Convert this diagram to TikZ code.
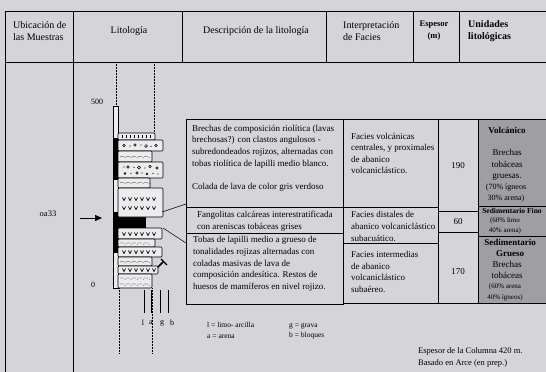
\documentclass[tikz,border=0pt]{standalone}
\usepackage{fontspec}
\setmainfont{Liberation Serif}
\usetikzlibrary{arrows.meta}
\definecolor{paper}{RGB}{213,213,217}
\definecolor{unitgray}{RGB}{158,158,163}
\tikzset{
  rule/.style={line width=0.7pt},
  bed/.style={draw, fill=white!55!paper, line width=0.6pt, rounded corners=1pt},
  hdr/.style={inner sep=0pt, align=left, font=\fontsize{10}{12}\selectfont},
  cell/.style={inner sep=0pt, anchor=west, align=left, font=\fontsize{9}{11.6}\selectfont},
  unitxt/.style={inner sep=0pt, align=center, font=\fontsize{9}{11.5}\selectfont},
  legend/.style={inner sep=0pt, align=left, font=\fontsize{7.5}{10.5}\selectfont},
  guide/.style={densely dotted, line width=0.5pt},
  leader/.style={line width=0.5pt}
}

\begin{document}
\begin{tikzpicture}[x=1pt,y=-1pt]
  \fill[paper] (0,0) rectangle (546,372);
  \useasboundingbox (0,0) rectangle (546,372);

  % header row
  \draw[rule] (5,372) -- (5,11) -- (546,11);
  \draw[rule] (5,62) -- (546,62);
  \draw[rule] (73,11) -- (73,372);
  \foreach \x in {182,326,413,459} \draw[rule] (\x,11) -- (\x,62);
  \node[hdr, anchor=west] (hloc) at (13,31) {Ubicación de\\las Muestras};
  \node[hdr] (hlit) at (129,31) {Litología};
  \node[hdr] (hdesc) at (256,31) {Descripción de la litología};
  \node[hdr, anchor=west] (hfac) at (343,31) {Interpretación\\de Facies};
  \node[hdr, align=center, font=\fontsize{8.5}{12}\selectfont\bfseries] (hesp) at (434,31) {Espesor\\(m)};
  \node[hdr, anchor=west, font=\fontsize{10}{12}\selectfont\bfseries] (huni) at (468,31) {Unidades\\litológicas};

  % table
  \draw[rule] (186,119) rectangle (343,304);
  \draw[rule] (186,207) -- (343,207) (186,233) -- (343,233);
  \draw[rule] (343,119) rectangle (438,303);
  \draw[rule] (343,207) -- (438,207) (343,243) -- (438,243);
  \draw[rule] (438,119) rectangle (478,303);
  \draw[rule] (438,211) -- (478,211) (438,232) -- (478,232);
  \fill[unitgray] (478,119) rectangle (546,303);
  \draw[rule] (546,119) -- (478,119) -- (478,303) -- (546,303);
  \draw[rule] (478,206) -- (546,206) (478,236) -- (546,236);

  \node[cell] (desc1) at (192,146.5) {Brechas de composición riolítica (lavas\\brechosas?) con clastos angulosos -\\subredondeados rojizos, alternadas con\\tobas riolítica de lapilli medio blanco.};
  \node[cell] (desc1b) at (192,187) {Colada de lava de color gris verdoso};
  \node[cell] (desc2) at (197,221) {Fangolitas calcáreas interestratificada\\con areniscas tobáceas grises};
  \node[cell] (desc3) at (193,264) {Tobas de lapilli medio a grueso de\\tonalidades rojizas alternadas con\\coladas masivas de lava de\\composición andesítica. Restos de\\huesos de mamíferos en nivel rojizo.};

  \node[cell] (fac1) at (351,153.5) {Facies volcánicas\\centrales, y proximales\\de abanico\\volcaniclástico.};
  \node[cell] (fac2) at (351,226.5) {Facies distales de\\abanico volcaniclástico\\subacuático.};
  \node[cell] (fac3) at (351,272) {Facies intermedias\\de abanico\\volcaniclástico\\subaéreo.};

  \node[unitxt] (esp1) at (458,166) {190};
  \node[unitxt] (esp2) at (458,222) {60};
  \node[unitxt] (esp3) at (458,272) {170};

  \node[unitxt, font=\fontsize{9}{11.5}\selectfont\bfseries] (volc) at (507,130) {Volcánico};
  \node[unitxt] (volc2) at (507,165) {Brechas\\tobáceas\\gruesas.};
  \node[unitxt, font=\fontsize{8}{11}\selectfont] (volc3) at (506,193.5) {(70\% ígneos\\30\% arena)};
  \node[unitxt, font=\fontsize{7.5}{10}\selectfont\bfseries] (sedf) at (512,210.5) {Sedimentario Fino};
  \node[unitxt, font=\fontsize{7}{10}\selectfont] (sedf2) at (505,226) {(60\% limo\\40\% arena)};
  \node[unitxt, font=\fontsize{9}{11}\selectfont\bfseries] (sedg) at (510,247.5) {Sedimentario\\Grueso};
  \node[unitxt] (sedg2) at (507,270) {Brechas\\tobáceas};
  \node[unitxt, font=\fontsize{7}{11}\selectfont] (sedg3) at (505,292.5) {(60\% arena\\40\% ígneos)};

  % stratigraphic column
  \draw[guide] (116,62) -- (116,106);
  \draw[guide] (154,62) -- (154,133);
  \draw[guide] (119,288) -- (119,353);
  \draw[guide] (152,288) -- (152,353);
  \node[legend, font=\fontsize{8}{10}\selectfont] (top) at (97,102) {500};
  \node[legend, font=\fontsize{8}{10}\selectfont] (base) at (93,285) {0};

  \draw[line width=0.6pt, fill=white!55!paper] (113,106) rectangle (118,288);
  \fill (113,138) rectangle (118,180);
  \fill (113,212) rectangle (118,253);
  \filldraw (113,217) rectangle (145,227);

  \draw[bed] (118,133) rectangle (155,140);
  \draw[bed] (118,140) rectangle (163,151);
  \draw[bed] (118,151) rectangle (152,162);
  \draw[bed] (118,162) rectangle (163,178);
  \draw[bed] (118,178) rectangle (150,188);
  \draw[bed] (118,188) rectangle (163,217);
  \draw[bed] (118,228) rectangle (162,239);
  \draw[bed] (118,239) rectangle (155,247);
  \draw[bed] (118,247) rectangle (162,257);
  \draw[bed] (118,257) rectangle (152,266);
  \draw[bed] (118,266) rectangle (158,274);
  \draw[bed] (118,274) rectangle (152,288);

  % fills
  \foreach \x in {122,126,...,150}
    \draw[line width=0.6pt] (\x,135) -- (\x,137.5);
  \foreach \x/\y/\r in {124/145.5/1.3, 135/145/1.2, 146/146/1.4, 156/145.5/1.2,
      128/167/1.2, 139/167.5/1.5, 150/166.5/1.2, 157/168/1.3,
      125/173.5/1.0, 137/173/1.3, 147/174/1.1}
    \draw[line width=0.5pt] (\x,\y) circle (\r);
  \foreach \x/\y in {130/146, 141/145, 151/146.5, 124/167, 134/167.5, 145/168,
      131/173.5, 142/173, 153/173.5, 158/174}
    \fill (\x,\y) circle (0.7);
  \foreach \y in {156.5,182.5,243,261.5,278,284}
    \foreach \x in {122,128,...,146} {
      \draw[line width=0.45pt] (\x-2,\y) .. controls (\x-0.7,\y-1.8) and (\x+0.7,\y+1.8) .. (\x+2,\y);
      \fill (\x+3.2,\y+1.2) circle (0.45);
    }
  \foreach \y in {199,208,234,252,270}
    \foreach \x in {124,130,...,154}
      \draw[line width=0.7pt] (\x-1.6,\y-1.5) -- (\x,\y+1.5) -- (\x+1.6,\y-1.5);
  \draw[line width=1.5pt, line cap=round] (158,267) -- (163,262);
  \draw[line width=1.2pt] (161,259) -- (167,265);

  % grain size scale
  \foreach \x/\lx/\g in {144/143/l, 151/151/a, 160/162/g, 168/172/b} {
    \draw[line width=0.6pt] (\x,290) -- (\x,313);
    \node[legend, font=\fontsize{8}{10}\selectfont] (gs\g) at (\lx,323) {\g};
  }

  % sample and leaders
  \node[legend, font=\fontsize{8.5}{10}\selectfont] (oa33) at (48,214) {oa33};
  \coordinate (smpfrom) at (80,218);
  \coordinate (smp) at (102,218);
  \draw[line width=0.7pt, -{Triangle[length=7pt,width=6pt]}] (smpfrom) -- (smp);
  \coordinate (lavaA) at (162,212);
  \coordinate (lavaB) at (163,228);
  \coordinate (rowA) at (186,204);
  \coordinate (rowB) at (186,243);
  \draw[leader] (lavaA) -- (rowA);
  \draw[leader] (lavaB) -- (rowB);

  % key
  \node[legend, anchor=west] (keyla) at (207,330.5) {l = limo- arcilla\\a = arena};
  \node[legend, anchor=west] (keygb) at (289,331.5) {g = grava\\b = bloques};
  \node[legend, anchor=west, font=\fontsize{8.5}{11.5}\selectfont] (note) at (418,357.5) {Espesor de la Columna 420 m.\\Basado en Arce (en prep.)};
\end{tikzpicture}
\end{document}
